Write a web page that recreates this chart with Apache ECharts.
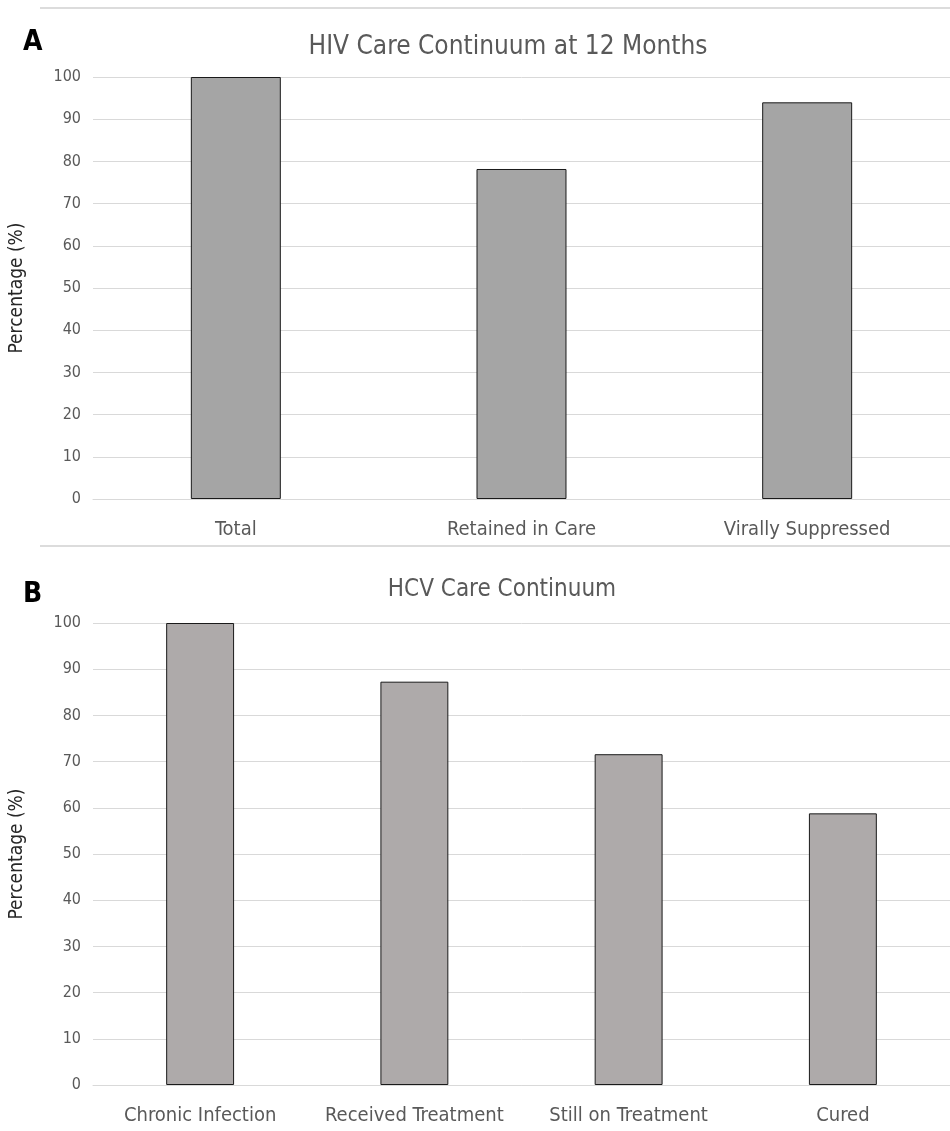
<!DOCTYPE html>
<html>
<head>
<meta charset="utf-8">
<script src="https://cdn.jsdelivr.net/npm/echarts@6/dist/echarts.min.js"></script>
<style>
html,body{margin:0;padding:0;background:#fff;}
#chart{width:950px;height:1131px;}
</style>
</head>
<body>
<div id="chart"></div>
<script>
// Panel A data
var hivCategories = ['Total', 'Retained in Care', 'Virally Suppressed'];
var hivValues = [100, 78.2, 94];
// Panel B data
var hcvCategories = ['Chronic Infection', 'Received Treatment', 'Still on Treatment', 'Cured'];
var hcvValues = [100, 87.3, 71.6, 58.8];
var yTicks = [0, 10, 20, 30, 40, 50, 60, 70, 80, 90, 100];

var FONT = '"Liberation Sans Narrow", "DejaVu Sans Condensed", sans-serif';
var chart = echarts.init(document.getElementById('chart'), null, {renderer: 'canvas'});

function yAxis(idx) {
  return {
    gridIndex: idx, type: 'value', min: 0, max: 100, interval: 10,
    name: 'Percentage (%)', nameLocation: 'middle', nameGap: 66, nameRotate: 90,
    nameTextStyle: {color: '#262626', fontSize: 19, fontFamily: FONT},
    axisLine: {show: false}, axisTick: {show: false},
    axisLabel: {color: '#595959', fontSize: 16, fontFamily: FONT, margin: 12},
    splitLine: {lineStyle: {color: '#d9d9d9', width: 1}}
  };
}
function xAxis(idx, cats) {
  return {
    gridIndex: idx, type: 'category', data: cats,
    axisLine: {lineStyle: {color: '#d9d9d9'}}, axisTick: {show: false},
    axisLabel: {color: '#595959', fontSize: 20, fontFamily: FONT, margin: 21, interval: 0}
  };
}

chart.setOption({
  animation: false,
  backgroundColor: '#fff',
  title: [
    {text: 'HIV Care Continuum at 12 Months', left: 503, top: 29, textAlign: 'center',
     textStyle: {color: '#595959', fontSize: 26, fontWeight: 'normal', fontFamily: FONT}},
    {text: 'HCV Care Continuum', left: 497, top: 573, textAlign: 'center',
     textStyle: {color: '#595959', fontSize: 24, fontWeight: 'normal', fontFamily: FONT}}
  ],
  graphic: [
    {type: 'line', shape: {x1: 40, y1: 8, x2: 950, y2: 8}, style: {stroke: '#d0d0d0', lineWidth: 1.5}},
    {type: 'line', shape: {x1: 40, y1: 546, x2: 950, y2: 546}, style: {stroke: '#d0d0d0', lineWidth: 1.5}},
    {type: 'text', left: 23, top: 29, style: {text: 'A', fill: '#000', font: 'bold 28px ' + FONT}},
    {type: 'text', left: 23, top: 581, style: {text: 'B', fill: '#000', font: 'bold 28px ' + FONT}}
  ],
  grid: [
    {left: 92, right: 0, top: 77, height: 422},
    {left: 93, right: 0, top: 623, height: 462}
  ],
  xAxis: [xAxis(0, hivCategories), xAxis(1, hcvCategories)],
  yAxis: [yAxis(0), yAxis(1)],
  series: [
    {type: 'bar', xAxisIndex: 0, yAxisIndex: 0, data: hivValues, barWidth: '31.5%',
     itemStyle: {color: '#a5a5a5', borderColor: '#1a1a1a', borderWidth: 1}},
    {type: 'bar', xAxisIndex: 1, yAxisIndex: 1, data: hcvValues, barWidth: '31.7%',
     itemStyle: {color: '#aeaaaa', borderColor: '#1a1a1a', borderWidth: 1}}
  ]
});
</script>
</body>
</html>
